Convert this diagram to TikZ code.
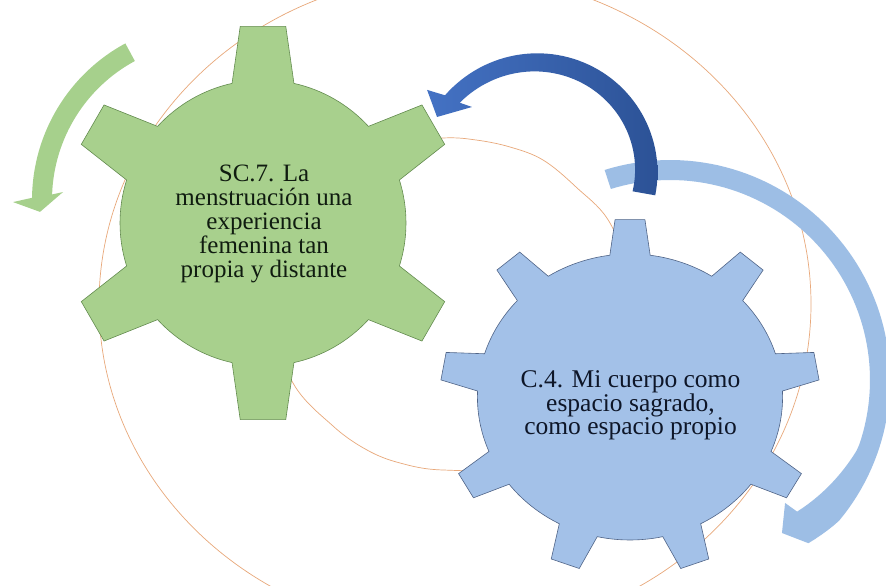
\documentclass[tikz,border=0pt]{standalone}
\usepackage{fontspec}
\setmainfont{Liberation Serif}
\definecolor{gfill}{RGB}{168,208,141}
\definecolor{gline}{RGB}{100,140,80}
\definecolor{bfill}{RGB}{163,193,232}
\definecolor{bline}{RGB}{80,100,135}
\definecolor{larrow}{RGB}{157,190,229}
\definecolor{darkA}{RGB}{68,114,196}
\definecolor{darkB}{RGB}{44,82,150}
\definecolor{garrow}{RGB}{166,208,140}
\definecolor{orng}{RGB}{232,168,122}
\definecolor{gtxt}{RGB}{16,28,16}
\definecolor{btxt}{RGB}{14,22,40}
\begin{document}
\begin{tikzpicture}[x=1pt,y=1pt,
  geargreen/.style={fill=gfill, draw=gline, line width=0.6pt, line join=miter},
  gearblue/.style={fill=bfill, draw=bline, line width=0.6pt, line join=miter},
  guide/.style={draw=orng, line width=0.7pt},
  labelG/.style={align=center, font=\fontsize{25}{24}\selectfont, text=gtxt, inner sep=0pt},
  labelB/.style={align=center, font=\fontsize{25.5}{23.5}\selectfont, text=btxt, inner sep=0pt}]
\useasboundingbox (0,0) rectangle (886,586);
\clip (0,0) rectangle (886,586);
\fill[white] (0,0) rectangle (886,586);

% background guide curves
\draw[guide] (455,282) ellipse [x radius=356, y radius=330];
\draw[guide] plot[smooth cycle, tension=0.6] coordinates {
  (443,448) (476,446) (510,439) (543,426) (576,399) (610,363)
  (632,300) (625,230) (580,150) (520,119) (443,116) (400,123)
  (367,136) (333,160) (293,203) (272,270) (285,350) (330,420) (385,442)};

% green gear
\begin{scope}[shift={(263,363)}]
\draw[geargreen] (102.5:143)
  \foreach \a [evaluate=\a as \s using \a-47.5, evaluate=\a as \e using \a-12.5]
  in {150,210,270,330,390,450}
  { arc[start angle=\s, end angle=\e, radius=143]
    -- (\a-6.6:198) -- (\a+6.6:198) -- (\a+12.5:143) } -- cycle;
\end{scope}
\node[labelG] (t7) at (264,362) {SC.7. La\\menstruación una\\experiencia\\femenina tan\\propia y distante};

% blue gear
\begin{scope}[shift={(630,189)}, xscale=1.067]
\draw[gearblue] (97.6:143)
  \foreach \a [evaluate=\a as \s using \a-32.4, evaluate=\a as \e using \a-7.6]
  in {130,170,210,250,290,330,370,410,450}
  { arc[start angle=\s, end angle=\e, radius=143]
    -- (\a-4.5:178) -- (\a+4.5:178) -- (\a+7.6:143) } -- cycle;
\end{scope}
\node[labelB] (t4) at (630.5,180.3) {C.4. Mi cuerpo como\\espacio sagrado,\\como espacio propio};

% light blue arrow
\begin{scope}[shift={(670,206)}]
\fill[larrow] plot[domain=107.3:-49.7, samples=80] (\x:{220-6*max(0,(-40-\x)/9.7)})
  -- (-53.8:189.6) -- (-46.9:168.4)
  -- plot[domain=-46:107.2, samples=80] (\x:{200-17*max(0,(-20-\x)/26)}) -- cycle;
\end{scope}

% dark blue arrow
\begin{scope}[shift={(540,411)}]
\shade[left color=darkA, right color=darkB]
  plot[domain=-10:140, samples=60] (\x:{117+7*(\x+10)/150})
  -- (143:141.4) -- (150.6:118.2) -- (135:96.2)
  -- plot[domain=138:-10, samples=60] (\x:{94+14*(\x+10)/148}) -- cycle;
\end{scope}

% green arrow
\begin{scope}[shift={(210,386)}]
\fill[garrow] (118.4:178) arc[start angle=118.4, end angle=179.3, radius=178]
  -- (180.6:197) -- (184:170.4) -- (176.9:147.2) -- (178:158)
  arc[start angle=178, end angle=118.4, radius=158] -- cycle;
\end{scope}
\end{tikzpicture}
\end{document}
